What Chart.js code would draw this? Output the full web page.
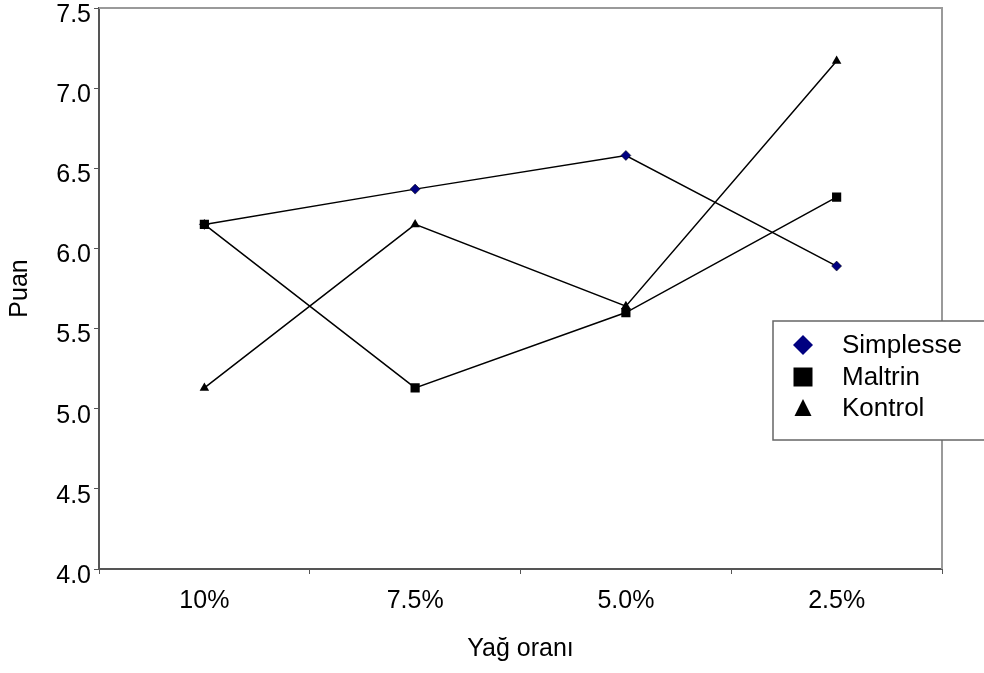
<!DOCTYPE html>
<html>
<head>
<meta charset="utf-8">
<script src="https://cdn.jsdelivr.net/npm/chart.js@4/dist/chart.umd.min.js"></script>
<style>
  html, body { margin: 0; padding: 0; background: #fff; }
  #wrap { width: 984px; height: 673px; }
</style>
</head>
<body>
<div id="wrap"><canvas id="myChart" width="984" height="673"></canvas></div>
<script>
var categories = ['10%', '7.5%', '5.0%', '2.5%'];
var simplesse = [6.15, 6.37, 6.58, 5.89];
var maltrin = [6.15, 5.13, 5.60, 6.32];
var kontrol = [5.13, 6.15, 5.64, 7.17];
var seriesNames = ['Simplesse', 'Maltrin', 'Kontrol'];
var yTicks = [4.0, 4.5, 5.0, 5.5, 6.0, 6.5, 7.0, 7.5];

var FONT = 'Arial, "Liberation Sans", sans-serif';

//Grey frame on top and right of plot area
var framePlugin = {
    id: 'frame',
    beforeDatasetsDraw: function(chart){
        var a = chart.chartArea, ctx = chart.ctx;
        ctx.save();
        ctx.strokeStyle = '#9a9a9a';
        ctx.lineWidth = 2;
        ctx.beginPath();
        ctx.moveTo(a.left, a.top);
        ctx.lineTo(a.right, a.top);
        ctx.lineTo(a.right, a.bottom);
        ctx.stroke();
        ctx.restore();
    }
};

//Legend box drawn inside the plot like the original
var legendBox = {
    id: 'legendBox',
    afterDraw: function(chart){
        var ctx = chart.ctx;
        var x0 = 773, y0 = 321, w = 230, h = 119;
        ctx.save();
        ctx.fillStyle = '#fff';
        ctx.fillRect(x0, y0, w, h);
        ctx.strokeStyle = '#666';
        ctx.lineWidth = 1.5;
        ctx.strokeRect(x0, y0, w, h);
        ctx.font = '26px ' + FONT;
        ctx.textBaseline = 'middle';
        ctx.fillStyle = '#000';
        var rows = [345, 377, 408];
        chart.data.datasets.forEach(function(ds, i){
            var mx = 803, my = rows[i];
            ctx.fillStyle = ds.pointBackgroundColor;
            ctx.beginPath();
            if (ds.pointStyle == 'rectRot') {
                ctx.moveTo(mx, my - 10); ctx.lineTo(mx + 10, my);
                ctx.lineTo(mx, my + 10); ctx.lineTo(mx - 10, my);
            } else if (ds.pointStyle == 'rect') {
                ctx.rect(mx - 9.5, my - 9.5, 19, 19);
            } else {
                ctx.moveTo(mx, my - 9); ctx.lineTo(mx + 8.5, my + 8);
                ctx.lineTo(mx - 8.5, my + 8);
            }
            ctx.closePath();
            ctx.fill();
            ctx.fillStyle = '#000';
            ctx.fillText(ds.label, 842, my + 1);
        });
        ctx.restore();
    }
};

var ctx = document.getElementById('myChart');
var chart = new Chart(ctx, {
    type: 'line',
    data: {
        labels: categories,
        datasets: [{
            label: seriesNames[0],
            data: simplesse,
            order: 2,
            borderColor: '#000',
            borderWidth: 1.5,
            pointStyle: 'rectRot',
            pointRadius: 5,
            pointBackgroundColor: '#000080',
            pointBorderColor: '#000',
            pointBorderWidth: 0.5
        }, {
            label: seriesNames[1],
            data: maltrin,
            order: 1,
            borderColor: '#000',
            borderWidth: 1.5,
            pointStyle: 'rect',
            pointRadius: 6.5,
            pointBackgroundColor: '#000',
            pointBorderColor: '#000',
            pointBorderWidth: 0
        }, {
            label: seriesNames[2],
            data: kontrol,
            order: 0,
            borderColor: '#000',
            borderWidth: 1.5,
            pointStyle: 'triangle',
            pointRadius: 5.5,
            pointBackgroundColor: '#000',
            pointBorderColor: '#000',
            pointBorderWidth: 0
        }]
    },
    options: {
        responsive: false,
        animation: false,
        layout: { padding: { top: 8, right: 42, bottom: 0, left: 0 } },
        plugins: {
            legend: { display: false },
            tooltip: { enabled: false }
        },
        scales: {
            x: {
                offset: true,
                grid: { offset: true, drawOnChartArea: false, drawTicks: true, tickLength: 5, color: '#555', lineWidth: 1 },
                border: { color: '#555', width: 2 },
                ticks: { color: '#000', font: { family: FONT, size: 25 }, padding: 12 },
                title: { display: true, text: 'Yağ oranı', color: '#000', font: { family: FONT, size: 25 }, padding: { top: 0, bottom: 9 } },
                afterFit: function(scale){ scale.height = 104; scale.paddingLeft = 0; scale.paddingRight = 0; }
            },
            y: {
                min: 4.0,
                max: 7.5,
                afterBuildTicks: function(scale){
                    scale.ticks = yTicks.map(function(v){ return { value: v }; });
                },
                grid: { drawOnChartArea: false, drawTicks: true, tickLength: 5, color: '#555', lineWidth: 1 },
                border: { color: '#555', width: 2 },
                ticks: {
                    color: '#000',
                    font: { family: FONT, size: 25 },
                    padding: 3,
                    labelOffset: 7,
                    callback: function(v){ return Number(v).toFixed(1); }
                },
                title: { display: true, text: 'Puan', color: '#000', font: { family: FONT, size: 25 }, padding: { top: 5, bottom: 0 } },
                afterFit: function(scale){ scale.width = 99; scale.paddingTop = 0; scale.paddingBottom = 0; }
            }
        }
    },
    plugins: [framePlugin, legendBox]
});
</script>
</body>
</html>
